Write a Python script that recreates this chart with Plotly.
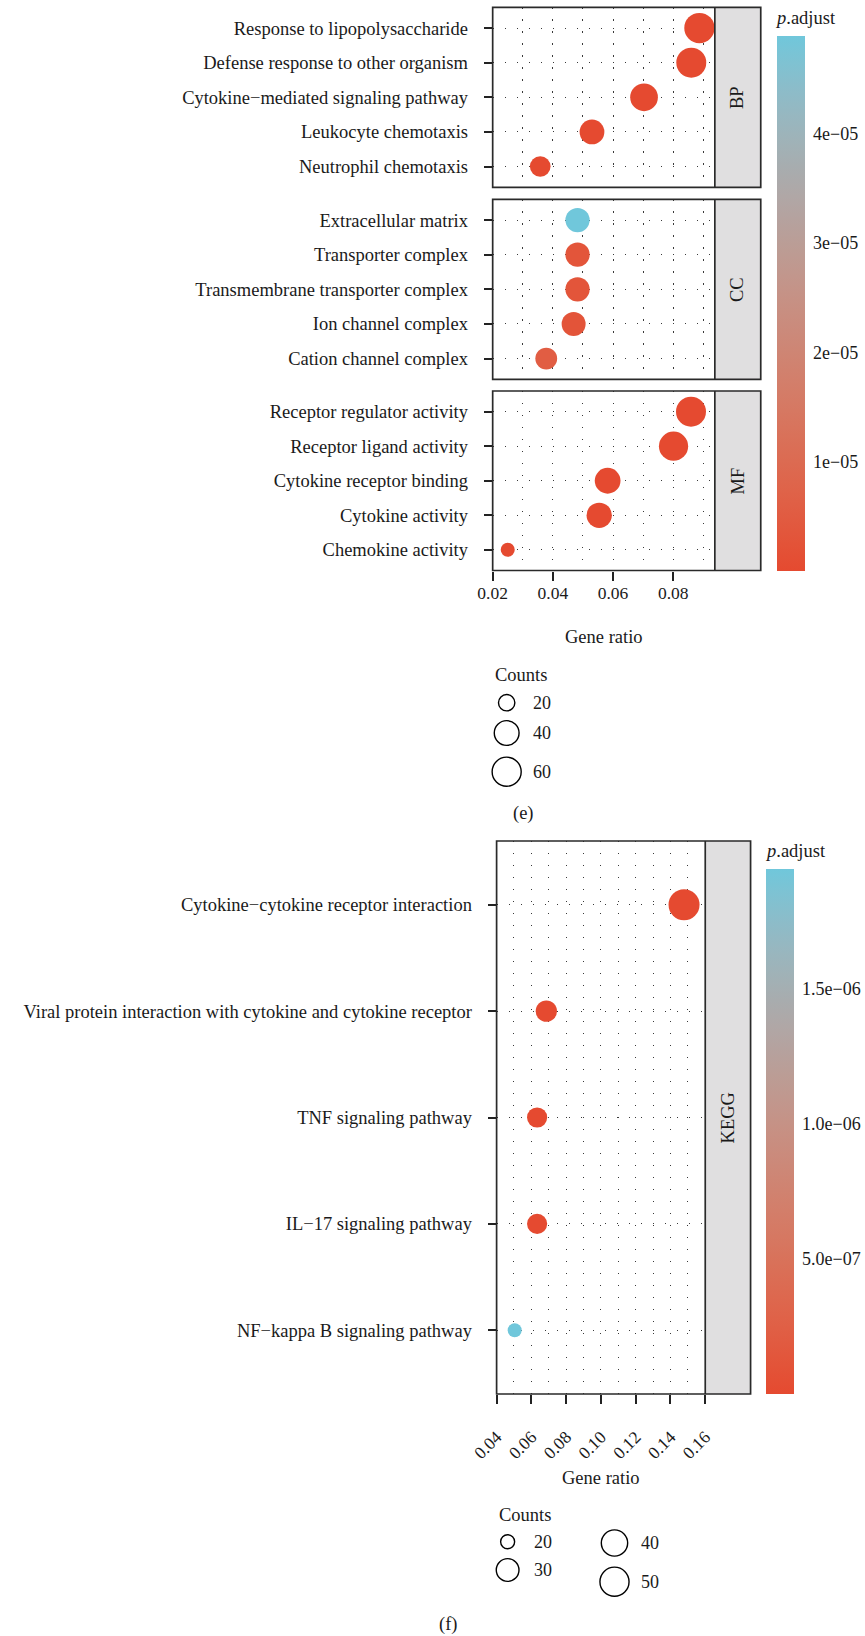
import numpy as np
import plotly.graph_objects as go

W, H = 865, 1636
FONT = "Liberation Serif"
TXT = "#1a1a1a"
GRID = "#3a3a3a"
DASH = "1.4px,10.6px"

# ---------------- (e) GO enrichment data ----------------
bp_terms = ["Response to lipopolysaccharide", "Defense response to other organism",
            "Cytokine\u2212mediated signaling pathway", "Leukocyte chemotaxis",
            "Neutrophil chemotaxis"]
bp_ratio = [0.0887, 0.0860, 0.0703, 0.0530, 0.0358]
bp_count = [67, 65, 53, 40, 27]
bp_padj = [2e-12, 5e-12, 1e-11, 2e-9, 3e-8]

cc_terms = ["Extracellular matrix", "Transporter complex",
            "Transmembrane transporter complex", "Ion channel complex",
            "Cation channel complex"]
cc_ratio = [0.0482, 0.0482, 0.0482, 0.0469, 0.0378]
cc_count = [38, 38, 38, 37, 30]
cc_padj = [4.89e-5, 3.0e-6, 3.0e-6, 2.6e-6, 5.5e-6]

mf_terms = ["Receptor regulator activity", "Receptor ligand activity",
            "Cytokine receptor binding", "Cytokine activity", "Chemokine activity"]
mf_ratio = [0.0859, 0.0801, 0.0582, 0.0554, 0.0250]
mf_count = [65, 61, 44, 42, 19]
mf_padj = [1e-10, 2e-10, 1e-9, 1e-9, 4e-9]

go_panels = ["BP", "CC", "MF"]
e_xticks = [0.02, 0.04, 0.06, 0.08]
e_cbar_ticks = [1e-5, 2e-5, 3e-5, 4e-5]
e_cbar_labels = ["1e\u221205", "2e\u221205", "3e\u221205", "4e\u221205"]
e_size_breaks = [20, 40, 60]

# ---------------- (f) KEGG data ----------------
kegg_terms = ["Cytokine\u2212cytokine receptor interaction",
              "Viral protein interaction with cytokine and cytokine receptor",
              "TNF signaling pathway", "IL\u221217 signaling pathway",
              "NF\u2212kappa B signaling pathway"]
kegg_ratio = [0.1478, 0.0686, 0.0633, 0.0633, 0.0504]
kegg_count = [58, 27, 25, 25, 20]
kegg_padj = [1e-22, 1e-12, 3e-11, 3e-11, 1.944e-6]
f_xticks = [0.04, 0.06, 0.08, 0.10, 0.12, 0.14, 0.16]
f_cbar_ticks = [5e-7, 1e-6, 1.5e-6]
f_cbar_labels = ["5.0e\u221207", "1.0e\u221206", "1.5e\u221206"]
f_size_breaks = [20, 30, 40, 50]

LOW, HIGH = "#E54A30", "#70C7DB"


# ---------------- helpers ----------------
def px(x):
    return x / W


def py(y):
    return 1 - y / H


def _lin(c):
    c = c / 255.0
    return np.where(c <= 0.04045, c / 12.92, ((c + 0.055) / 1.055) ** 2.4)


def _gam(c):
    c = np.clip(c, 0, 1)
    return np.where(c <= 0.0031308, 12.92 * c, 1.055 * c ** (1 / 2.4) - 0.055) * 255


M = np.array([[0.4124, 0.3576, 0.1805], [0.2126, 0.7152, 0.0722], [0.0193, 0.1192, 0.9505]])
WP = np.array([0.95047, 1.0, 1.08883])


def hex2lab(h):
    rgb = np.array([int(h[i:i + 2], 16) for i in (1, 3, 5)], float)
    xyz = M @ _lin(rgb) / WP
    f = np.where(xyz > 0.008856, np.cbrt(xyz), 7.787 * xyz + 16 / 116)
    return np.array([116 * f[1] - 16, 500 * (f[0] - f[1]), 200 * (f[1] - f[2])])


def lab2hex(lab):
    fy = (lab[0] + 16) / 116
    fx = fy + lab[1] / 500
    fz = fy - lab[2] / 200
    f = np.array([fx, fy, fz])
    xyz = np.where(f ** 3 > 0.008856, f ** 3, (f - 16 / 116) / 7.787) * WP
    rgb = _gam(np.linalg.inv(M) @ xyz)
    return "#%02x%02x%02x" % tuple(int(round(float(v))) for v in rgb)


lo, hi = hex2lab(LOW), hex2lab(HIGH)
CSCALE = [[float(t), lab2hex(lo * (1 - t) + hi * t)] for t in np.linspace(0, 1, 21)]


def size_scale(c, cmin, cmax, dmin, dmax):
    c = np.asarray(c, float)
    return (dmin + (dmax - dmin) * np.sqrt((c - cmin) / (cmax - cmin))).tolist()


e_all_counts = bp_count + cc_count + mf_count
e_cmin, e_cmax = min(e_all_counts), max(e_all_counts)
e_pall = bp_padj + cc_padj + mf_padj
e_pmin, e_pmax = min(e_pall), max(e_pall)
f_cmin, f_cmax = min(kegg_count), max(kegg_count)
f_pmin, f_pmax = min(kegg_padj), max(kegg_padj)

E_D = (14.0, 30.3)
F_D = (14.0, 31.0)

# ---------------- geometry (pixels) ----------------
E_X0, E_X1, E_XS = 485.9, 717.7, 765.6
E_ROWS = [(7.3, 187.3), (199.3, 379.3), (391.0, 570.5)]
F_X0, F_X1, F_XS = 490.0, 707.7, 755.0
F_Y0, F_Y1 = 841.0, 1394.0

fig = go.Figure()

tickfont = dict(family=FONT, size=18.5, color=TXT)
numfont = dict(family=FONT, size=17.5, color=TXT)
layout = dict(width=W, height=H, margin=dict(l=0, r=0, t=0, b=0),
              paper_bgcolor="white", plot_bgcolor="rgba(0,0,0,0)",
              showlegend=False, font=dict(family=FONT, color=TXT))


def xcfg(domain, rng, anchor, labels, tickvals, angle=0, standoff=0):
    return dict(domain=domain, range=rng, anchor=anchor, showline=False, zeroline=False,
                showgrid=True, gridcolor=GRID, gridwidth=1, griddash=DASH,
                tickmode="array", tickvals=tickvals,
                ticktext=["%.2f" % v for v in tickvals],
                minor=dict(dtick=0.01, tick0=0, showgrid=True, gridcolor=GRID, gridwidth=1,
                           griddash=DASH, ticks=""),
                ticks="outside" if labels else "", ticklen=9, tickwidth=1.8, tickcolor="#222",
                showticklabels=labels, tickfont=numfont, tickangle=angle,
                ticklabelstandoff=standoff, fixedrange=True)


def ycfg(domain, terms, anchor, standoff):
    n = len(terms)
    return dict(domain=domain, anchor=anchor, type="category", categoryorder="array",
                categoryarray=terms, range=[n - 0.4, -0.6], showline=False, zeroline=False,
                showgrid=True, gridcolor=GRID, gridwidth=1, griddash=DASH,
                ticks="outside", ticklen=8, tickwidth=1.8, tickcolor="#222",
                tickfont=tickfont, ticklabelstandoff=standoff, fixedrange=True)


shapes, annos = [], []


def note(text, x, y, xanchor="center", yanchor="middle", size=18.5, angle=0):
    annos.append(dict(text=text, x=px(x), y=py(y), xref="paper", yref="paper",
                      xanchor=xanchor, yanchor=yanchor, showarrow=False, textangle=angle,
                      font=dict(family=FONT, size=size, color=TXT)))


def panel_box(x0, x1, xs, t, b):
    shapes.append(dict(type="rect", xref="paper", yref="paper", x0=px(x1), x1=px(xs),
                       y0=py(b), y1=py(t), fillcolor="#E0DFE0", line=dict(width=0), layer="below"))
    shapes.append(dict(type="rect", xref="paper", yref="paper", x0=px(x0), x1=px(xs),
                       y0=py(b), y1=py(t), line=dict(color="#2a2a2a", width=1.7), layer="above"))
    shapes.append(dict(type="line", xref="paper", yref="paper", x0=px(x1), x1=px(x1),
                       y0=py(b), y1=py(t), line=dict(color="#2a2a2a", width=1.7), layer="above"))


# ---- (e) panels
sets = [(bp_terms, bp_ratio, bp_count, bp_padj), (cc_terms, cc_ratio, cc_count, cc_padj),
        (mf_terms, mf_ratio, mf_count, mf_padj)]
e_range = [0.02, 0.02 + (E_X1 - E_X0) / 3140.0]
for i, ((terms, ratio, count, padj), (t, b), lab) in enumerate(zip(sets, E_ROWS, go_panels)):
    k = "" if i == 0 else str(i + 1)
    layout["xaxis" + k] = xcfg([px(E_X0), px(E_X1)], e_range, "y" + k, i == 2, e_xticks,
                               standoff=-3)
    layout["yaxis" + k] = ycfg([py(b), py(t)], terms, "x" + k, 12)
    fig.add_trace(go.Scatter(
        x=ratio, y=terms, xaxis="x" + k, yaxis="y" + k, mode="markers", cliponaxis=False,
        marker=dict(size=size_scale(count, e_cmin, e_cmax, *E_D), color=padj,
                    coloraxis="coloraxis", line=dict(width=0), opacity=1)))
    panel_box(E_X0, E_X1, E_XS, t, b)
    note(lab, (E_X1 + E_XS) / 2, (t + b) / 2, angle=-90)

# ---- (f) panel
layout["xaxis4"] = xcfg([px(F_X0), px(F_X1)], [0.04, 0.16], "y4", True, f_xticks, angle=-45,
                        standoff=16)
layout["yaxis4"] = ycfg([py(F_Y1), py(F_Y0)], kegg_terms, "x4", 12)
fig.add_trace(go.Scatter(
    x=kegg_ratio, y=kegg_terms, xaxis="x4", yaxis="y4", mode="markers", cliponaxis=False,
    marker=dict(size=size_scale(kegg_count, f_cmin, f_cmax, *F_D), color=kegg_padj,
                coloraxis="coloraxis2", line=dict(width=0), opacity=1)))
panel_box(F_X0, F_X1, F_XS, F_Y0, F_Y1)
note("KEGG", (F_X1 + F_XS) / 2, (F_Y0 + F_Y1) / 2, angle=-90)


# ---- colour bars
CB_T = 28


def cbar(x0, top, length, tickvals, ticktext):
    return dict(x=px(x0), xanchor="left", xpad=0, y=py(top), yanchor="top", ypad=0,
                len=length, lenmode="pixels", thickness=CB_T, thicknessmode="pixels",
                outlinewidth=0, tickmode="array", tickvals=tickvals, ticktext=ticktext,
                ticks="outside", ticklen=5, tickwidth=1, tickcolor="rgba(0,0,0,0)",
                tickfont=dict(family=FONT, size=18, color=TXT))


E_CB = (783.0, 36.0, 535.0)
F_CB = (771.5, 869.0, 525.0)
layout["coloraxis"] = dict(colorscale=CSCALE, cmin=e_pmin, cmax=e_pmax,
                           colorbar=cbar(*E_CB, e_cbar_ticks, e_cbar_labels))
layout["coloraxis2"] = dict(colorscale=CSCALE, cmin=f_pmin, cmax=f_pmax,
                            colorbar=cbar(*F_CB, f_cbar_ticks, f_cbar_labels))

# white tick marks on both edges of the bars (as ggplot draws them)
BAR_SHIFT = -4.8
for (x0, top, length), vals, vmin, vmax in [(E_CB, e_cbar_ticks, e_pmin, e_pmax),
                                            (F_CB, f_cbar_ticks, f_pmin, f_pmax)]:
    bl = x0 + BAR_SHIFT
    for v in vals:
        yy = top + (vmax - v) / (vmax - vmin) * length
        for a, b in [(bl, bl + 5.5), (bl + CB_T - 5.5, bl + CB_T)]:
            shapes.append(dict(type="line", xref="paper", yref="paper", x0=px(a), x1=px(b),
                               y0=py(yy), y1=py(yy), line=dict(color="white", width=1.3)))

note("<i>p</i>.adjust", 778.5, 18, xanchor="left")
note("<i>p</i>.adjust", 767.8, 851, xanchor="left")

# ---- axis titles and panel letters
note("Gene ratio", (E_X0 + E_X1) / 2, 636.7)
note("Gene ratio", (F_X0 + F_X1) / 2, 1477.7)
note("(e)", 518.5, 813)
note("(f)", 439, 1624)

# ---- size legends (hidden pixel-space axes)
layout["xaxis5"] = dict(domain=[0, 1], range=[0, W], visible=False, fixedrange=True, anchor="y5")
layout["yaxis5"] = dict(domain=[0, 1], range=[H, 0], visible=False, fixedrange=True, anchor="x5")

e_leg_pos = [(500.5, 702.7), (500.5, 733.0), (500.5, 771.7)]
f_leg_pos = [(501.5, 1541.7), (501.5, 1570.0), (613.0, 1543.0), (613.0, 1581.7)]
for breaks, pos, (cmn, cmx, d) in [(e_size_breaks, e_leg_pos, (e_cmin, e_cmax, E_D)),
                                   (f_size_breaks, f_leg_pos, (f_cmin, f_cmax, F_D))]:
    sz = size_scale(breaks, cmn, cmx, *d)
    fig.add_trace(go.Scatter(
        x=[p[0] for p in pos], y=[p[1] for p in pos], xaxis="x5", yaxis="y5", mode="markers",
        marker=dict(symbol="circle-open", size=sz, color="black", opacity=1,
                    line=dict(width=1.4, color="black")),
        hoverinfo="skip"))
    for b, (x, y) in zip(breaks, pos):
        note(str(b), x + 25.5, y, xanchor="left", size=18)

note("Counts", 486.7, 675, xanchor="left")
note("Counts", 490.7, 1515, xanchor="left")

layout["shapes"] = shapes
layout["annotations"] = annos
fig.update_layout(**layout)
fig.write_html("out.html")
